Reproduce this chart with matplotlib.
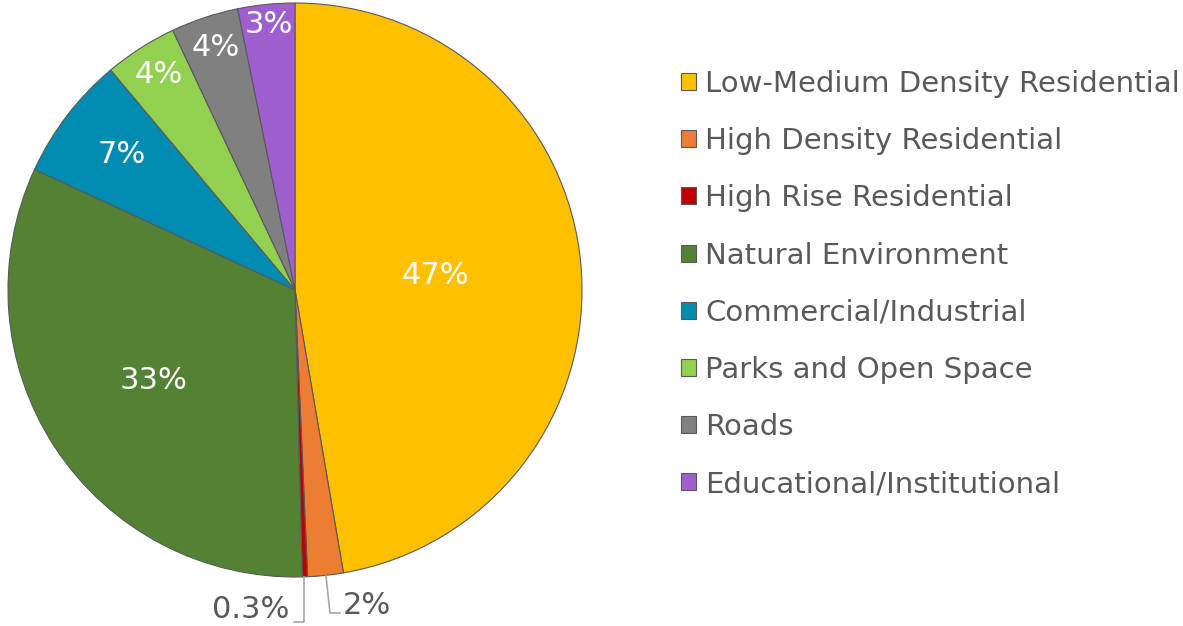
import numpy as np
import matplotlib.pyplot as plt

plt.rcParams['font.family'] = ['DejaVu Sans']

# land use shares (percent), clockwise from 12 o'clock
categories = ["Low-Medium Density Residential", "High Density Residential",
              "High Rise Residential", "Natural Environment",
              "Commercial/Industrial", "Parks and Open Space",
              "Roads", "Educational/Institutional"]
shares = [47.3, 2.0, 0.3, 32.3, 7.0, 4.1, 3.8, 3.2]
labels = ["47%", "2%", "0.3%", "33%", "7%", "4%", "4%", "3%"]

colors = ["#FFC000", "#ED7D31", "#C00000", "#548235",
          "#008BB0", "#92D050", "#808080", "#A05FD0"]
# radial position of the inside labels (fraction of radius)
label_r = [0.49, None, None, 0.59, 0.76, 0.88, 0.88, 0.92]
txt_gray = "#595959"

W, H = 1183, 626
fig = plt.figure(figsize=(W / 100, H / 100), dpi=100)
# pie box in pixels: x 8..582, y 3..577
ax = fig.add_axes([8 / W, 1 - 577 / H, 574 / W, 574 / H])

wedges, _ = ax.pie(shares, colors=colors, startangle=90, counterclock=False,
                   radius=1.0, wedgeprops=dict(edgecolor="#595959", linewidth=0.8))
ax.set_xlim(-1, 1)
ax.set_ylim(-1, 1)
ax.axis("off")

for w, lab, r in zip(wedges, labels, label_r):
    if r is None:
        continue
    mid = np.deg2rad((w.theta1 + w.theta2) / 2)
    ax.text(r * np.cos(mid), r * np.sin(mid) + 0.01, lab, color="white",
            fontsize=22, ha="center", va="center")

# outside labels with leader lines for the two thin slices
px = lambda x, y: ((x - 295) / 287, (290 - y) / 287)
for pts, lab, tx, ty, ha in [
        ([(304, 577), (304, 622), (294, 622)], labels[2], 289, 610, "right"),
        ([(326, 576), (330, 613), (340, 613)], labels[1], 343, 606, "left")]:
    xy = np.array([px(*p) for p in pts])
    ax.plot(xy[:, 0], xy[:, 1], color="#A6A6A6", lw=1.2, clip_on=False)
    x, y = px(tx, ty)
    ax.text(x, y, lab, color=txt_gray, fontsize=22, ha=ha, va="center",
            clip_on=False)

leg = fig.legend(wedges, categories, loc="upper left",
                 bbox_to_anchor=(681 / W, 1 - 70 / H), frameon=False,
                 fontsize=21, handlelength=0.52, handleheight=0.52,
                 handletextpad=0.3, labelspacing=1.0,
                 borderpad=0, borderaxespad=0)
for t in leg.get_texts():
    t.set_color(txt_gray)

fig.savefig("out.png", dpi=100)
